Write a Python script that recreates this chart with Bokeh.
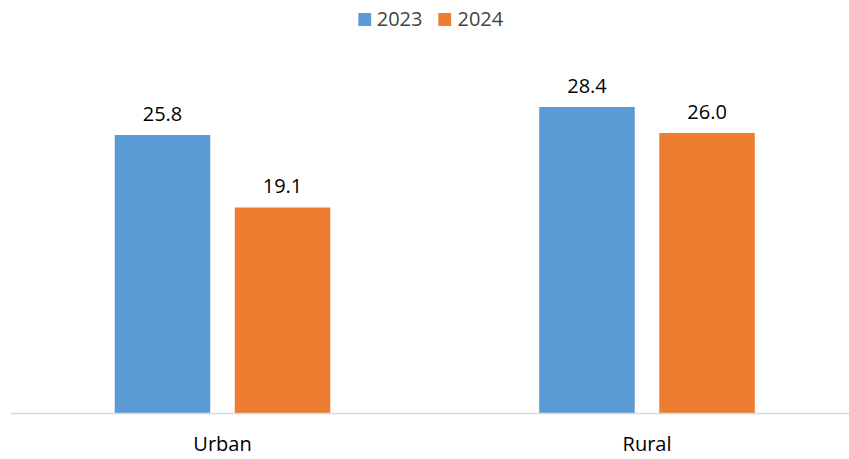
from bokeh.plotting import figure
from bokeh.models import ColumnDataSource, Range1d, FixedTicker, Legend, LegendItem
from bokeh.transform import dodge
from bokeh.embed import file_html
from bokeh.resources import INLINE
from bokeh.core.properties import value

categories = ["Urban", "Rural"]
years = ["2023", "2024"]
values_2023 = [25.8, 28.4]
values_2024 = [19.1, 26.0]

FONT = "Open Sans"
colors = {"2023": "#5B9BD5", "2024": "#ED7D31"}

idx = list(range(len(categories)))
src = ColumnDataSource(dict(
    x=idx,
    v2023=values_2023,
    v2024=values_2024,
    l2023=[f"{v:.1f}" for v in values_2023],
    l2024=[f"{v:.1f}" for v in values_2024],
))

p = figure(width=849, height=459, output_backend="svg", toolbar_location=None,
           x_range=Range1d(-0.4994, 1.477), y_range=Range1d(0, 38.27),
           min_border_left=10, min_border_right=0, min_border_top=0, min_border_bottom=43)

off = 0.1414
bw = 0.225
r1 = p.vbar(x=dodge("x", -off), top="v2023", bottom=0, width=bw, source=src,
            fill_color=colors["2023"], line_color=None)
r2 = p.vbar(x=dodge("x", off), top="v2024", bottom=0, width=bw, source=src,
            fill_color=colors["2024"], line_color=None)

for yr, o in (("2023", -off), ("2024", off)):
    p.text(x=dodge("x", o), y="v" + yr, text="l" + yr, source=src,
           text_align="center", text_baseline="bottom", y_offset=-14,
           text_font=value(FONT), text_font_size="20px", text_color="#000000")

p.xaxis.ticker = FixedTicker(ticks=idx)
p.xaxis.major_label_overrides = {i: c for i, c in zip(idx, categories)}
p.xaxis.major_tick_line_color = None
p.xaxis.minor_tick_line_color = None
p.xaxis.major_tick_out = 0
p.xaxis.major_tick_in = 0
p.xaxis.major_label_standoff = 16
p.xaxis.axis_line_color = "#D9D9D9"
p.xaxis.axis_line_width = 1.5
p.xaxis.major_label_text_font = FONT
p.xaxis.major_label_text_font_size = "20px"
p.xaxis.major_label_text_color = "#000000"
p.yaxis.visible = False
p.xgrid.grid_line_color = None
p.ygrid.grid_line_color = None
p.outline_line_color = None

legend = Legend(items=[LegendItem(label="2023", renderers=[r1]),
                       LegendItem(label="2024", renderers=[r2])],
                orientation="horizontal", location="top_center",
                label_text_font=FONT, label_text_font_size="20px",
                glyph_width=16, glyph_height=16, label_standoff=5, spacing=14,
                padding=0, margin=5, border_line_color=None, background_fill_alpha=0)
p.add_layout(legend)

open("out.html", "w").write(file_html(p, INLINE))
